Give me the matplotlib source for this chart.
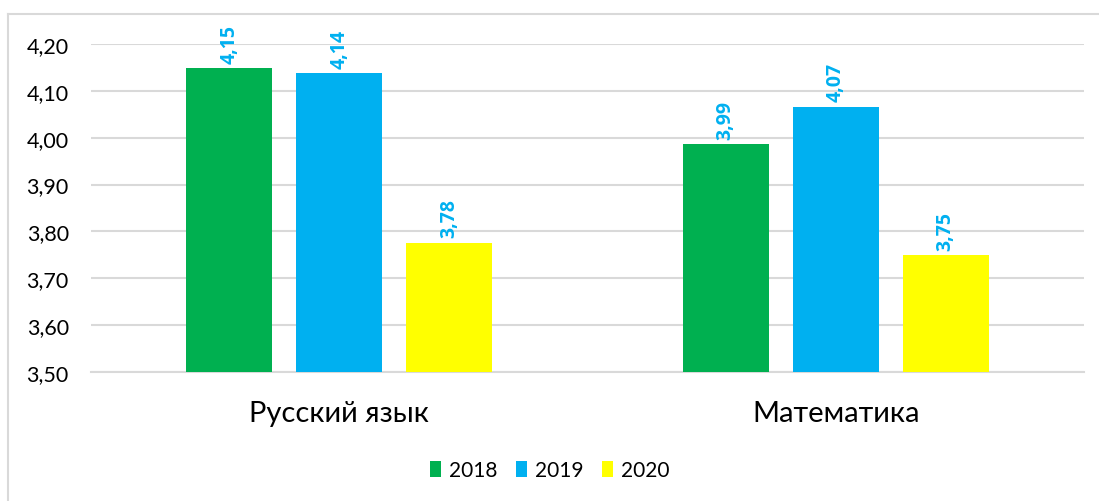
import matplotlib
matplotlib.use('Agg')
import matplotlib.pyplot as plt
from matplotlib.lines import Line2D
import numpy as np

plt.rcParams['font.family'] = ['Lato', 'Open Sans', 'DejaVu Sans']

subjects = ['Русский язык', 'Математика']
years = ['2018', '2019', '2020']
scores = {
    '2018': [4.148, 3.986],
    '2019': [4.137, 4.066],
    '2020': [3.776, 3.749],
}
colors = {'2018': '#00B050', '2019': '#00B0F0', '2020': '#FFFF00'}
yticks = [3.50, 3.60, 3.70, 3.80, 3.90, 4.00, 4.10, 4.20]

fig = plt.figure(figsize=(10.99, 5.02), dpi=100)
ax = fig.add_axes([0.0828, 0.257, 0.9036, 0.6534])

x = np.arange(len(subjects))
step = 0.2215
width = 0.174
for i, yr in enumerate(years):
    pos = x + (i - 1) * step
    bars = ax.bar(pos, np.array(scores[yr]) - 3.5, width, bottom=3.5,
                  color=colors[yr], label=yr, zorder=3)
    for b, v in zip(bars, scores[yr]):
        ax.annotate(f"{v:.2f}".replace('.', ','),
                    (b.get_x() + b.get_width() / 2, v),
                    xytext=(0, 4), textcoords='offset points',
                    rotation=90, ha='center', va='bottom',
                    color='#00B0F0', fontsize=14, fontweight='bold',
                    family=['Open Sans', 'DejaVu Sans'],
                    annotation_clip=False)

ax.set_xlim(-0.5, 1.5)
ax.set_ylim(3.5, 4.2)
ax.set_yticks(yticks)
ax.set_yticklabels([f"{t:.2f}".replace('.', ',') for t in yticks], fontsize=15.5)
ax.set_xticks(x)
ax.set_xticklabels(subjects, fontsize=21)
ax.tick_params(axis='both', length=0, colors='#000000')
ax.tick_params(axis='x', pad=20)
ax.tick_params(axis='y', pad=16)
ax.grid(axis='y', color='#D9D9D9', linewidth=1.5, zorder=0)
for s in ['top', 'right', 'left']:
    ax.spines[s].set_visible(False)
ax.spines['bottom'].set_color('#D9D9D9')
ax.spines['bottom'].set_linewidth(1.5)

ax.legend(loc='center', bbox_to_anchor=(0.5, 0.062), bbox_transform=fig.transFigure,
          ncol=3, frameon=False, fontsize=15, handlelength=0.55, handleheight=0.8,
          handletextpad=0.35, columnspacing=0.9)

# outer chart frame
fig.add_artist(Line2D([8 / 1099, 8 / 1099], [0, 1 - 15 / 502], transform=fig.transFigure,
                      color='#D9D9D9', linewidth=1.5))
fig.add_artist(Line2D([8 / 1099, 1], [1 - 15 / 502, 1 - 15 / 502], transform=fig.transFigure,
                      color='#D9D9D9', linewidth=1.5))

fig.savefig('out.png', dpi=100)
plt.close(fig)
